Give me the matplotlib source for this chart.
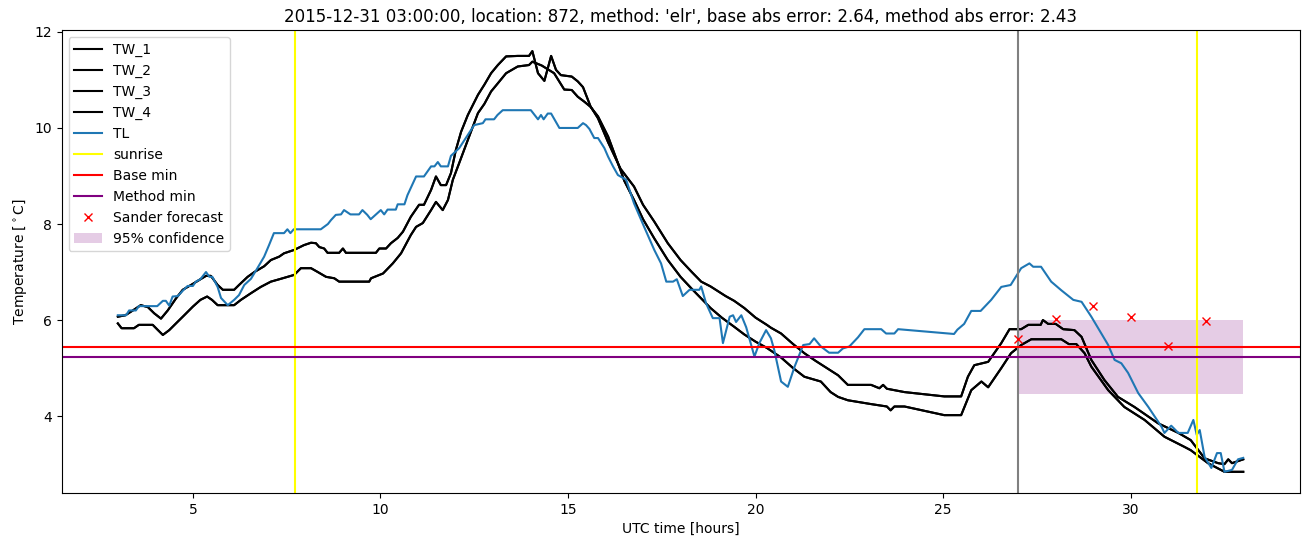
import matplotlib
matplotlib.use("Agg")
import matplotlib.pyplot as plt

# TL (air temperature)
tl_time = [3.0, 3.22, 3.3, 3.48, 3.56, 4.05, 4.2, 4.28, 4.37, 4.46, 4.6, 4.73, 4.86, 5.0, 5.08,
           5.2, 5.35, 5.44, 5.52, 5.66, 5.75, 5.93, 6.1, 6.23, 6.37, 6.55, 6.72, 6.9, 7.03, 7.16,
           7.43, 7.52, 7.6, 7.69, 8.41, 8.6, 8.68, 8.81, 8.95, 9.03, 9.2, 9.43, 9.52, 9.65, 9.74,
           9.88, 10.01, 10.1, 10.19, 10.41, 10.46, 10.64, 10.72, 10.95, 11.16, 11.35, 11.44, 11.53,
           11.61, 11.8, 11.88, 12.1, 12.5, 12.73, 12.8, 13.03, 13.12, 13.26, 14.01, 14.2, 14.28,
           14.35, 14.46, 14.55, 14.77, 15.26, 15.4, 15.48, 15.57, 15.7, 15.8, 15.97, 16.07, 16.2,
           16.33, 16.55, 16.76, 17.03, 17.3, 17.48, 17.62, 17.8, 17.9, 18.06, 18.24, 18.5, 18.55,
           18.68, 18.86, 19.04, 19.13, 19.31, 19.4, 19.48, 19.62, 19.75, 19.97, 20.1, 20.28, 20.41,
           20.5, 20.68, 20.86, 21.04, 21.27, 21.44, 21.56, 21.74, 21.96, 22.2, 22.33, 22.5, 22.73,
           22.9, 23.35, 23.48, 23.7, 23.8, 25.29, 25.38, 25.56, 25.75, 26.0, 26.28, 26.55, 26.8,
           27.08, 27.3, 27.4, 27.61, 27.88, 28.15, 28.47, 28.69, 28.95, 29.21, 29.4, 29.57, 29.75,
           29.93, 30.2, 30.47, 30.82, 30.9, 31.08, 31.27, 31.52, 31.67, 31.76, 31.84, 31.97, 32.15,
           32.3, 32.4, 32.5, 32.7, 32.86, 33.0]
tl_temp = [6.1, 6.1, 6.2, 6.2, 6.29, 6.29, 6.4, 6.4, 6.3, 6.49, 6.5, 6.61, 6.71, 6.71, 6.8,
           6.85, 7.0, 6.9, 6.9, 6.69, 6.46, 6.31, 6.42, 6.52, 6.73, 6.86, 7.08, 7.32, 7.56, 7.81,
           7.81, 7.89, 7.81, 7.89, 7.89, 8.0, 8.08, 8.19, 8.2, 8.29, 8.2, 8.2, 8.29, 8.19, 8.1,
           8.2, 8.29, 8.2, 8.3, 8.3, 8.41, 8.41, 8.6, 8.99, 8.99, 9.2, 9.2, 9.29,
           9.2, 9.2, 9.42, 9.58, 10.06, 10.1, 10.18, 10.18, 10.27, 10.37, 10.37, 10.18, 10.27,
           10.18, 10.3, 10.3, 10.0, 10.0, 10.1, 10.06, 9.98, 9.79, 9.79, 9.58, 9.4, 9.2,
           9.02, 8.92, 8.43, 7.94, 7.46, 7.18, 6.8, 6.8, 6.85, 6.5, 6.63, 6.63, 6.7,
           6.35, 6.04, 6.04, 5.52, 6.07, 6.1, 5.96, 6.1, 5.85, 5.24, 5.52, 5.79, 5.62,
           5.37, 4.72, 4.61, 5.03, 5.48, 5.5, 5.62, 5.45, 5.32, 5.32, 5.41, 5.45, 5.64,
           5.81, 5.81, 5.72, 5.72, 5.81, 5.71, 5.8, 5.92, 6.19, 6.19, 6.42, 6.69, 6.73,
           7.08, 7.18, 7.11, 7.11, 6.8, 6.62, 6.42, 6.38, 6.07, 5.73, 5.48, 5.17, 5.1,
           4.9, 4.48, 4.19, 3.78, 3.65, 3.8, 3.65, 3.65, 3.92, 3.61, 3.71, 3.15, 2.92,
           3.23, 3.23, 2.84, 2.88, 3.1, 3.13]

# TW_1 / TW_2 (these two overlap within a pixel)
tw1_time = [3.0, 3.2, 3.4, 3.61, 3.8, 3.97, 4.15, 4.33, 4.55, 4.73, 4.95, 5.16, 5.35, 5.48, 5.66,
            5.8, 6.1, 6.23, 6.46, 6.64, 6.9, 7.08, 7.3, 7.43, 7.7, 7.96, 8.15, 8.28, 8.37, 8.5,
            8.59, 8.9, 9.0, 9.08, 9.88, 9.97, 10.15, 10.28, 10.46, 10.6, 10.81, 11.03, 11.16,
            11.35, 11.48, 11.61, 11.75, 11.88, 12.01, 12.15, 12.33, 12.6, 12.77, 12.95, 13.13,
            13.35, 13.66, 13.96, 14.05, 14.2, 14.37, 14.55, 14.68, 14.81, 15.1, 15.26, 15.4, 15.6,
            15.8, 16.07, 16.4, 16.76, 17.0, 17.3, 17.66, 18.0, 18.3, 18.55, 18.8, 19.0, 19.2,
            19.43, 19.7, 20.0, 20.3, 20.41, 20.68, 21.0, 21.3, 21.6, 21.9, 22.2, 22.46, 23.08,
            23.3, 23.4, 23.5, 23.97, 25.03, 25.48, 25.66, 25.83, 26.2, 26.55, 26.77, 27.08, 27.27,
            27.6, 27.66, 27.8, 28.0, 28.2, 28.5, 28.69, 28.95, 29.3, 29.66, 30.1, 30.73, 31.27,
            31.6, 31.97, 32.33, 32.5, 32.6, 32.7, 33.0]
tw1_temp = [6.07, 6.1, 6.2, 6.31, 6.27, 6.14, 6.03, 6.2, 6.45, 6.63, 6.73, 6.83, 6.92, 6.92, 6.73,
            6.63, 6.63, 6.73, 6.9, 7.0, 7.12, 7.25, 7.32, 7.39, 7.46, 7.56, 7.61, 7.6, 7.52, 7.49,
            7.4, 7.4, 7.49, 7.4, 7.4, 7.49, 7.49, 7.6, 7.71, 7.84, 8.15, 8.4, 8.4,
            8.71, 8.99, 8.81, 8.81, 9.06, 9.54, 9.92, 10.27, 10.69, 10.9, 11.14, 11.31,
            11.49, 11.5, 11.5, 11.6, 11.14, 10.98, 11.5, 11.21, 11.1, 11.07, 10.97, 10.85, 10.45,
            10.2, 9.7, 9.15, 8.78, 8.4, 8.05, 7.6, 7.25, 7.0, 6.8, 6.7, 6.6, 6.5,
            6.4, 6.25, 6.05, 5.9, 5.84, 5.72, 5.5, 5.31, 5.15, 5.0, 4.85, 4.65, 4.65,
            4.58, 4.65, 4.57, 4.5, 4.41, 4.41, 4.82, 5.06, 5.13, 5.52, 5.81, 5.81, 5.9,
            5.9, 6.0, 5.92, 5.92, 5.81, 5.79, 5.65, 5.17, 4.75, 4.4, 4.19, 3.85, 3.65,
            3.5, 3.12, 3.02, 3.0, 3.1, 3.02, 3.1]
tw2_time = tw1_time
tw2_temp = tw1_temp

# TW_3 / TW_4 (also overlapping)
tw3_time = [3.0, 3.1, 3.43, 3.56, 3.93, 4.07, 4.2, 4.37, 4.55, 4.77, 5.0, 5.2, 5.38, 5.51, 5.66,
            6.1, 6.28, 6.55, 6.81, 7.08, 7.35, 7.7, 7.88, 8.15, 8.33, 8.55, 8.77, 8.9, 9.7, 9.75,
            10.07, 10.33, 10.55, 10.81, 10.95, 11.13, 11.35, 11.48, 11.66, 11.8, 11.93, 12.1,
            12.33, 12.6, 12.77, 12.95, 13.13, 13.35, 13.66, 13.96, 14.05, 14.3, 14.63, 14.9,
            15.1, 15.26, 15.43, 15.6, 15.8, 16.07, 16.33, 16.5, 16.76, 17.0, 17.3, 17.66, 18.0,
            18.3, 18.55, 18.8, 19.1, 19.43, 19.7, 20.0, 20.3, 20.68, 21.0, 21.3, 21.74, 22.0,
            22.2, 22.46, 23.08, 23.5, 23.6, 23.7, 23.97, 25.03, 25.48, 25.75, 26.02, 26.2, 26.55,
            26.81, 27.08, 27.35, 28.15, 28.35, 28.55, 28.77, 28.95, 29.4, 29.83, 30.37, 30.9,
            31.43, 31.6, 32.06, 32.5, 33.0]
tw3_temp = [5.93, 5.83, 5.83, 5.9, 5.9, 5.79, 5.69, 5.79, 5.93, 6.1, 6.28, 6.42, 6.49, 6.42, 6.31,
            6.31, 6.42, 6.56, 6.69, 6.8, 6.86, 6.94, 7.08, 7.08, 7.0, 6.9, 6.87, 6.8, 6.8, 6.87,
            6.97, 7.18, 7.39, 7.77, 7.94, 8.02, 8.29, 8.46, 8.29, 8.5, 8.92, 9.27,
            9.75, 10.31, 10.5, 10.76, 10.93, 11.14, 11.28, 11.31, 11.38, 11.3, 11.14, 10.8,
            10.79, 10.65, 10.55, 10.44, 10.24, 9.82, 9.27, 8.9, 8.5, 8.1, 7.7, 7.25, 6.9,
            6.65, 6.45, 6.25, 6.05, 5.86, 5.7, 5.55, 5.42, 5.22, 5.0, 4.82, 4.72, 4.5,
            4.4, 4.33, 4.25, 4.2, 4.12, 4.2, 4.2, 4.02, 4.02, 4.54, 4.72, 4.6, 5.0,
            5.31, 5.48, 5.6, 5.6, 5.5, 5.5, 5.31, 5.03, 4.54, 4.19, 3.92, 3.57,
            3.36, 3.29, 3.02, 2.84, 2.84]
tw4_time = tw3_time
tw4_temp = tw3_temp

sunrise_times = [7.72, 31.77]
forecast_time = 27.0
base_min = 5.44
method_min = 5.24

sander_time = [27, 28, 29, 30, 31, 32]
sander_temp = [5.6, 6.02, 6.29, 6.06, 5.46, 5.98]
conf_time = [27, 33]
conf_low = 4.46
conf_high = 6.0

fig, ax = plt.subplots(figsize=(13.1, 5.47), dpi=100)
fig.subplots_adjust(left=0.047, right=0.992, top=0.945, bottom=0.099)

ax.plot(tw1_time, tw1_temp, color="black", label="TW_1")
ax.plot(tw2_time, tw2_temp, color="black", label="TW_2")
ax.plot(tw3_time, tw3_temp, color="black", label="TW_3")
ax.plot(tw4_time, tw4_temp, color="black", label="TW_4")
ax.plot(tl_time, tl_temp, color="tab:blue", label="TL")

ax.axvline(sunrise_times[0], color="yellow", label="sunrise")
ax.axvline(sunrise_times[1], color="yellow")
ax.axvline(forecast_time, color="gray")
ax.axhline(base_min, color="red", label="Base min")
ax.axhline(method_min, color="purple", label="Method min")
ax.plot(sander_time, sander_temp, "rx", label="Sander forecast")
ax.fill_between(conf_time, conf_low, conf_high, color="purple", alpha=0.2,
                linewidth=0, label="95% confidence")

ax.set_xlabel("UTC time [hours]")
ax.set_ylabel(r"Temperature [$^\circ$C]")
ax.set_title("2015-12-31 03:00:00, location: 872, method: 'elr', "
             "base abs error: 2.64, method abs error: 2.43")
ax.legend(loc="upper left")

fig.savefig("out.png", dpi=100)
